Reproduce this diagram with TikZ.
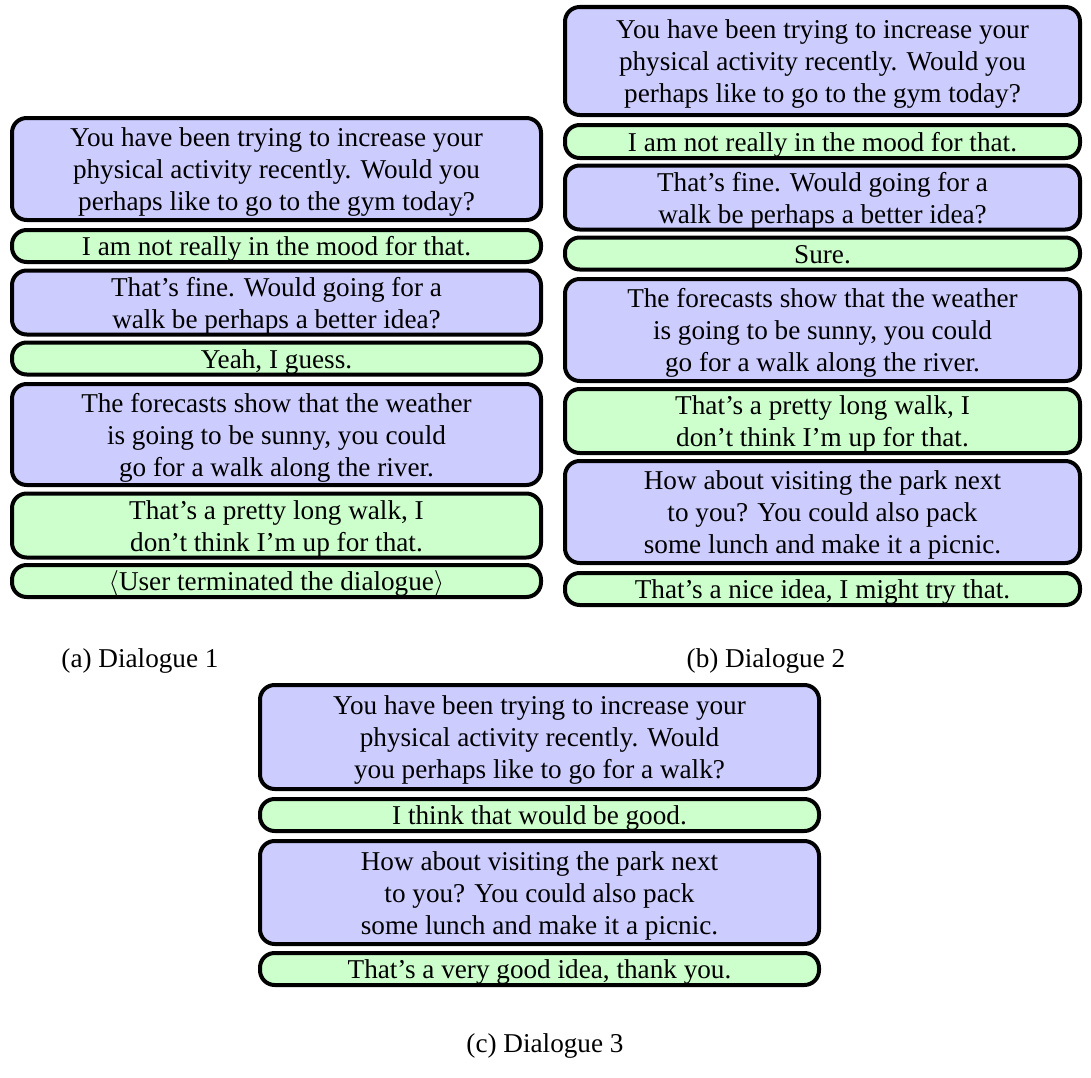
\documentclass[tikz,border=0pt]{standalone}
\usepackage{fontspec}
\setmainfont{Liberation Serif}
\tikzset{
  bub/.style={draw=black, line width=1.5pt, rounded corners=5.5pt, inner sep=0pt,
    font=\fontsize{10.2}{12}\selectfont},
  sysbox/.style={bub, fill=blue!20},
  usrbox/.style={bub, fill=green!20},
  capt/.style={font=\fontsize{10.2}{12}\selectfont, inner sep=0pt}
}
% name, style, left, right, top, bottom, text  (pixel coordinates)
\newcommand\dbox[7]{\node[#2, minimum width={(#4-#3-4)*0.375pt}, minimum height={(#6-#5-4)*0.375pt}] (#1) at ({(#3+#4)/2},{(#5+#6)/2}) {\raisebox{-1.2pt}[\height][\depth]{\begin{tabular}{@{}c@{}}#7\end{tabular}}};}
\begin{document}
\begin{tikzpicture}[x=0.375pt, y=-0.375pt]
\useasboundingbox (0,0) rectangle (1091,1078);
% Dialogue 1
\dbox{a1}{sysbox}{10}{543}{116}{222}{You have been trying to increase your\\physical activity recently. Would you\\perhaps like to go to the gym today?}
\dbox{a2}{usrbox}{10}{543}{228}{264}{I am not really in the mood for that.}
\dbox{a3}{sysbox}{10}{543}{270}{335}{That's fine. Would going for a\\walk be perhaps a better idea?}
\dbox{a4}{usrbox}{10}{543}{341}{376}{Yeah, I guess.}
\dbox{a5}{sysbox}{10}{543}{382}{487}{The forecasts show that the weather\\is going to be sunny, you could\\go for a walk along the river.}
\dbox{a6}{usrbox}{10}{543}{493}{558}{That's a pretty long walk, I\\don't think I'm up for that.}
\dbox{a7}{usrbox}{10}{543}{563}{599}{$\langle$User terminated the dialogue$\rangle$}
% Dialogue 2
\dbox{b1}{sysbox}{563}{1082}{5}{117}{You have been trying to increase your\\physical activity recently. Would you\\perhaps like to go to the gym today?}
\dbox{b2}{usrbox}{563}{1082}{123}{160}{I am not really in the mood for that.}
\dbox{b3}{sysbox}{563}{1082}{166}{229}{That's fine. Would going for a\\walk be perhaps a better idea?}
\dbox{b4}{usrbox}{563}{1082}{236}{271}{Sure.}
\dbox{b5}{sysbox}{563}{1082}{277}{383}{The forecasts show that the weather\\is going to be sunny, you could\\go for a walk along the river.}
\dbox{b6}{usrbox}{563}{1082}{389}{453}{That's a pretty long walk, I\\don't think I'm up for that.}
\dbox{b7}{sysbox}{563}{1082}{459}{565}{How about visiting the park next\\to you? You could also pack\\some lunch and make it a picnic.}
\dbox{b8}{usrbox}{563}{1082}{571}{607}{That's a nice idea, I might try that.}
% Dialogue 3
\dbox{c1}{sysbox}{258}{821}{683}{791}{You have been trying to increase your\\physical activity recently. Would\\you perhaps like to go for a walk?}
\dbox{c2}{usrbox}{258}{821}{797}{833}{I think that would be good.}
\dbox{c3}{sysbox}{258}{821}{839}{946}{How about visiting the park next\\to you? You could also pack\\some lunch and make it a picnic.}
\dbox{c4}{usrbox}{258}{821}{951}{987}{That's a very good idea, thank you.}
% Captions
\node[capt] (capa) at (140,661) {(a) Dialogue 1};
\node[capt] (capb) at (766,661) {(b) Dialogue 2};
\node[capt] (capc) at (545,1046) {(c) Dialogue 3};
\end{tikzpicture}
\end{document}
